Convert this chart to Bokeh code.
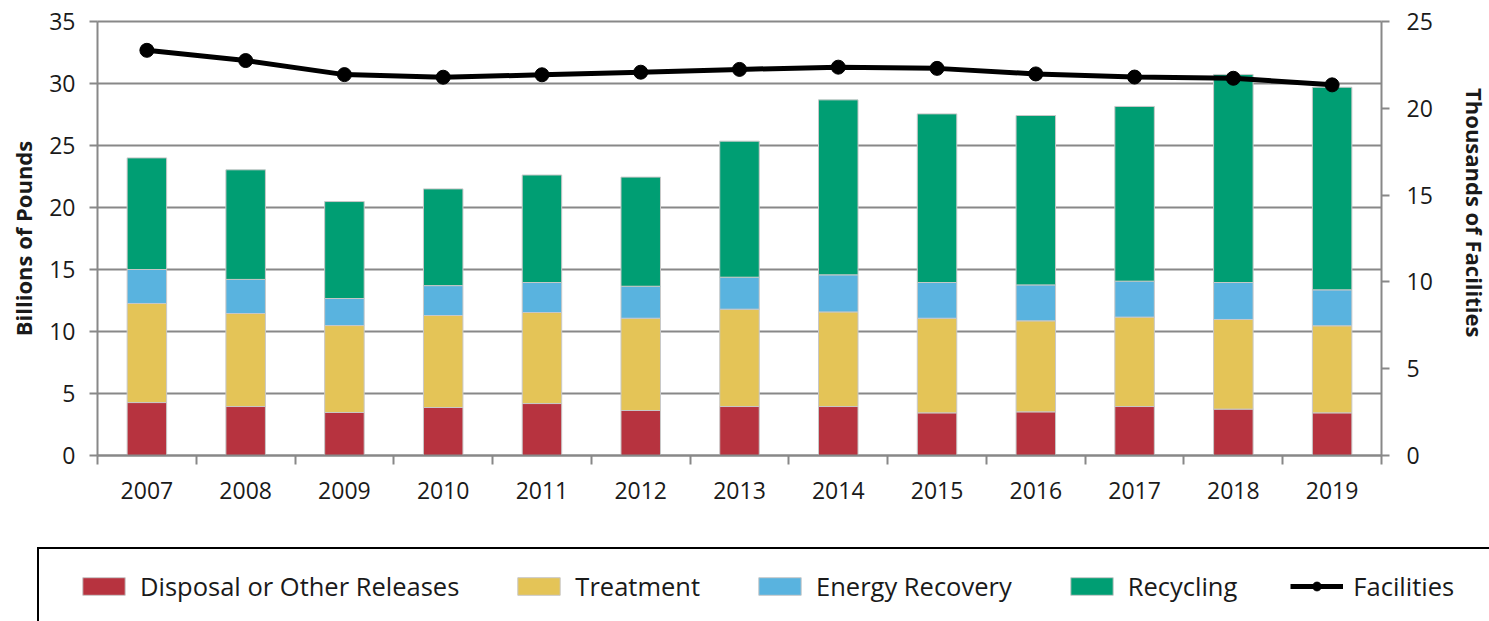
from bokeh.plotting import figure
from bokeh.models import (Range1d, LinearAxis, FixedTicker, SingleIntervalTicker,
                          Legend, LegendItem, ColumnDataSource)
from bokeh.embed import file_html
from bokeh.resources import INLINE

years = [2007, 2008, 2009, 2010, 2011, 2012, 2013, 2014, 2015, 2016, 2017, 2018, 2019]
disposal = [4.27, 3.95, 3.47, 3.87, 4.19, 3.63, 3.95, 3.95, 3.44, 3.52, 3.95, 3.74, 3.44]
treatment_top = [12.26, 11.45, 10.48, 11.29, 11.53, 11.07, 11.80, 11.58, 11.07, 10.86, 11.16, 10.97, 10.46]
energy_top = [15.00, 14.20, 12.66, 13.70, 13.95, 13.65, 14.38, 14.57, 13.95, 13.76, 14.06, 13.95, 13.36]
total = [24.00, 23.04, 20.48, 21.50, 22.62, 22.45, 25.35, 28.68, 27.55, 27.42, 28.15, 30.73, 29.70]
facilities = [23.34, 22.75, 21.94, 21.79, 21.93, 22.08, 22.24, 22.37, 22.30, 21.98, 21.80, 21.73, 21.35]

series_names = ["Disposal or Other Releases", "Treatment", "Energy Recovery", "Recycling"]
line_name = "Facilities"
colors = ["#B7333F", "#E4C457", "#59B3DF", "#009E73"]

treatment = [t - d for t, d in zip(treatment_top, disposal)]
energy = [e - t for e, t in zip(energy_top, treatment_top)]
recycling = [tt - e for tt, e in zip(total, energy_top)]

n = len(years)
xs = [i + 0.5 for i in range(n)]
src = ColumnDataSource(dict(x=xs, d=disposal, t=treatment, e=energy, r=recycling, f=facilities))

FONT = "Open Sans"
GRAY = "#888888"
NB = "\u00a0"

# layout (pixels): the frame covers the whole canvas; axes are drawn at fixed spots
W, H = 1489, 621
AX_L, AX_R, AX_T, AX_B = 97, 1381, 21, 455
LEFT_MAX, RIGHT_MAX = 35, 25
ux = (AX_R - AX_L) / n
uy = (AX_B - AX_T) / LEFT_MAX
ur = (AX_B - AX_T) / RIGHT_MAX

p = figure(width=W, height=H, output_backend="svg", toolbar_location=None,
           x_range=Range1d(-AX_L / ux, n + (W - AX_R) / ux),
           y_range=Range1d(-(H - AX_B) / uy, LEFT_MAX + AX_T / uy),
           min_border=0, min_border_left=0, min_border_right=0,
           min_border_top=0, min_border_bottom=0)
p.outline_line_color = None
p.background_fill_color = "white"
p.border_fill_color = "white"
p.xgrid.grid_line_color = None
g = p.ygrid[0]
g.grid_line_color = GRAY
g.grid_line_width = 2
g.ticker = SingleIntervalTicker(interval=5)
g.bounds = (0, LEFT_MAX)
if "cross_bounds" in g.properties():
    g.cross_bounds = (0, n)

p.extra_y_ranges = {"fac": Range1d(-(H - AX_B) / ur, RIGHT_MAX + AX_T / ur)}

bars = p.vbar_stack(["d", "t", "e", "r"], x="x", width=0.4, source=src,
                    color=colors, line_color="#C8C8C8", line_width=1)

ln = p.line("x", "f", source=src, y_range_name="fac", line_color="black", line_width=5)
mk = p.scatter("x", "f", source=src, y_range_name="fac", size=14, color="black")

# x axis
xa = p.xaxis[0]
xa.fixed_location = 0
xa.bounds = (0, n)
xa.ticker = FixedTicker(ticks=xs, minor_ticks=list(range(n + 1)))
xa.major_label_overrides = {x: str(y) for x, y in zip(xs, years)}
xa.major_tick_line_color = None
xa.major_tick_out = 0
xa.major_tick_in = 0
xa.minor_tick_line_color = GRAY
xa.minor_tick_line_width = 2
xa.minor_tick_out = 9
xa.minor_tick_in = 0
xa.axis_line_color = GRAY
xa.axis_line_width = 2
xa.major_label_standoff = 17
xa.major_label_text_font = FONT
xa.major_label_text_font_size = "23px"
xa.major_label_text_color = "#1a1a1a"

def style_y(ax, label, standoff, lstand, top):
    ax.ticker = SingleIntervalTicker(interval=5)
    ax.bounds = (0, top)
    ax.axis_label = label
    ax.axis_label_text_font = FONT
    ax.axis_label_text_font_style = "bold"
    ax.axis_label_text_font_size = "22px"
    ax.axis_label_text_color = "#1a1a1a"
    ax.axis_label_standoff = standoff
    ax.major_label_text_font = FONT
    ax.major_label_text_font_size = "23px"
    ax.major_label_text_color = "#1a1a1a"
    ax.major_label_standoff = lstand
    ax.major_tick_out = 8
    ax.major_tick_in = 0
    ax.major_tick_line_color = GRAY
    ax.major_tick_line_width = 2
    ax.minor_tick_line_color = None
    ax.axis_line_color = GRAY
    ax.axis_line_width = 2

la = p.yaxis[0]
la.fixed_location = 0
style_y(la, "Billions of Pounds", 8, 14, LEFT_MAX)
ra = LinearAxis(y_range_name="fac", fixed_location=n)
style_y(ra, "Thousands of Facilities" + NB * 9, 24, 17, RIGHT_MAX)
p.add_layout(ra, "right")

items = [LegendItem(label=s, renderers=[r]) for s, r in zip(series_names, bars)]
items.append(LegendItem(label=line_name + NB * 4, renderers=[ln, mk]))
legend = Legend(items=items, orientation="horizontal", location=(37, -4),
                padding=20, margin=0, spacing=53, label_standoff=10,
                glyph_width=53, glyph_height=22, label_height=22,
                label_text_font=FONT, label_text_font_size="25.5px",
                label_text_color="#1a1a1a",
                title=NB, title_location="left", title_standoff=17,
                title_text_font=FONT, title_text_font_size="1px",
                title_text_font_style="normal",
                border_line_color="black", border_line_width=2.5,
                border_line_alpha=1.0,
                background_fill_color="white", background_fill_alpha=1)
p.add_layout(legend, "center")

open("out.html", "w").write(file_html(p, INLINE))
